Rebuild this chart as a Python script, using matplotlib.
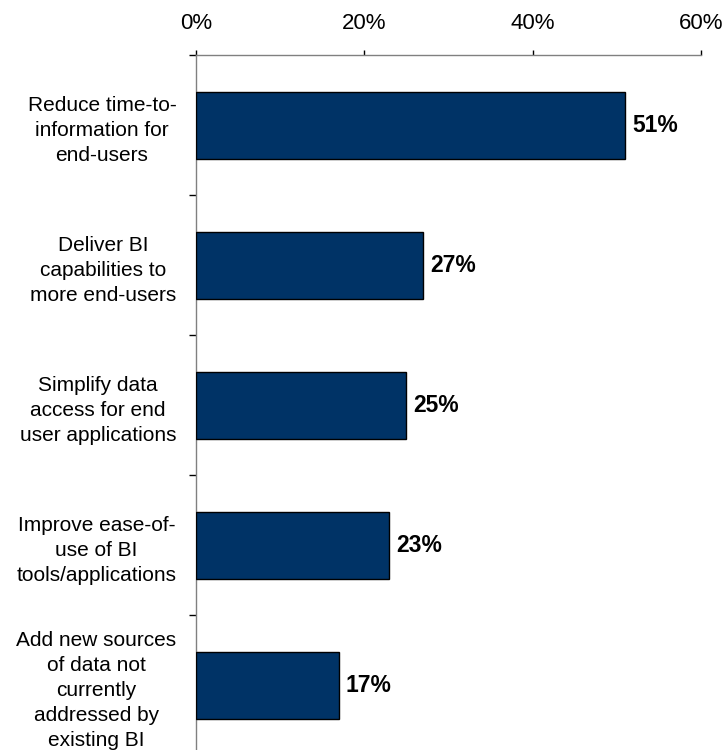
import matplotlib
matplotlib.use("Agg")
import matplotlib.pyplot as plt
from matplotlib.ticker import FuncFormatter, FixedLocator

plt.rcParams["font.family"] = ["Liberation Sans", "DejaVu Sans"]

# Survey answers and share of respondents
categories = [
    "Reduce time-to-\ninformation for\nend-users",
    "Deliver BI\ncapabilities to\nmore end-users",
    "Simplify data\naccess for end\nuser applications",
    "Improve ease-of-\nuse of BI\ntools/applications",
    "Add new sources\nof data not\ncurrently\naddressed by\nexisting BI",
]
shares = [0.51, 0.27, 0.25, 0.23, 0.17]
x_ticks = [0.0, 0.2, 0.4, 0.6]

bar_color = "#003366"
axis_color = "#808080"


def plot_priorities():
    fig = plt.figure(figsize=(7.27, 7.5), dpi=100)
    # axis box runs a little below the bottom edge, as in the original export
    ax = fig.add_axes([0.2692, -0.0071, 0.6951, 0.9333])

    positions = list(range(len(categories)))
    ax.barh(positions, shares, height=0.48, color=bar_color,
            edgecolor="black", linewidth=1.0, zorder=3)

    ax.set_xlim(0, 0.6)
    ax.set_ylim(len(categories) - 0.5, -0.5)

    # percentage axis on top
    ax.xaxis.tick_top()
    ax.set_xticks(x_ticks)
    ax.xaxis.set_major_formatter(FuncFormatter(lambda v, _: f"{v * 100:.0f}%"))
    ax.tick_params(axis="x", direction="out", length=3.6, width=1.0,
                   color="black", labelsize=16, pad=12)

    # category labels at bar centres, tick marks between categories
    ax.set_yticks(positions)
    ax.set_yticklabels(categories, ha="right", multialignment="center",
                       fontsize=15, linespacing=1.4)
    ax.tick_params(axis="y", which="major", length=0, pad=14)
    ax.yaxis.set_minor_locator(FixedLocator([p - 0.5 for p in positions]))
    ax.tick_params(axis="y", which="minor", direction="out", length=5,
                   width=1.0, color="black")

    for side in ["right", "bottom"]:
        ax.spines[side].set_visible(False)
    for side in ["top", "left"]:
        ax.spines[side].set_color(axis_color)
        ax.spines[side].set_linewidth(1.0)

    # value labels next to each bar
    for pos, value in zip(positions, shares):
        ax.annotate(f"{value * 100:.0f}%", xy=(value, pos),
                    xytext=(5, 0), textcoords="offset points",
                    ha="left", va="center", fontsize=16.5, fontweight="bold")

    fig.savefig("out.png", dpi=100)


if __name__ == "__main__":
    plot_priorities()
